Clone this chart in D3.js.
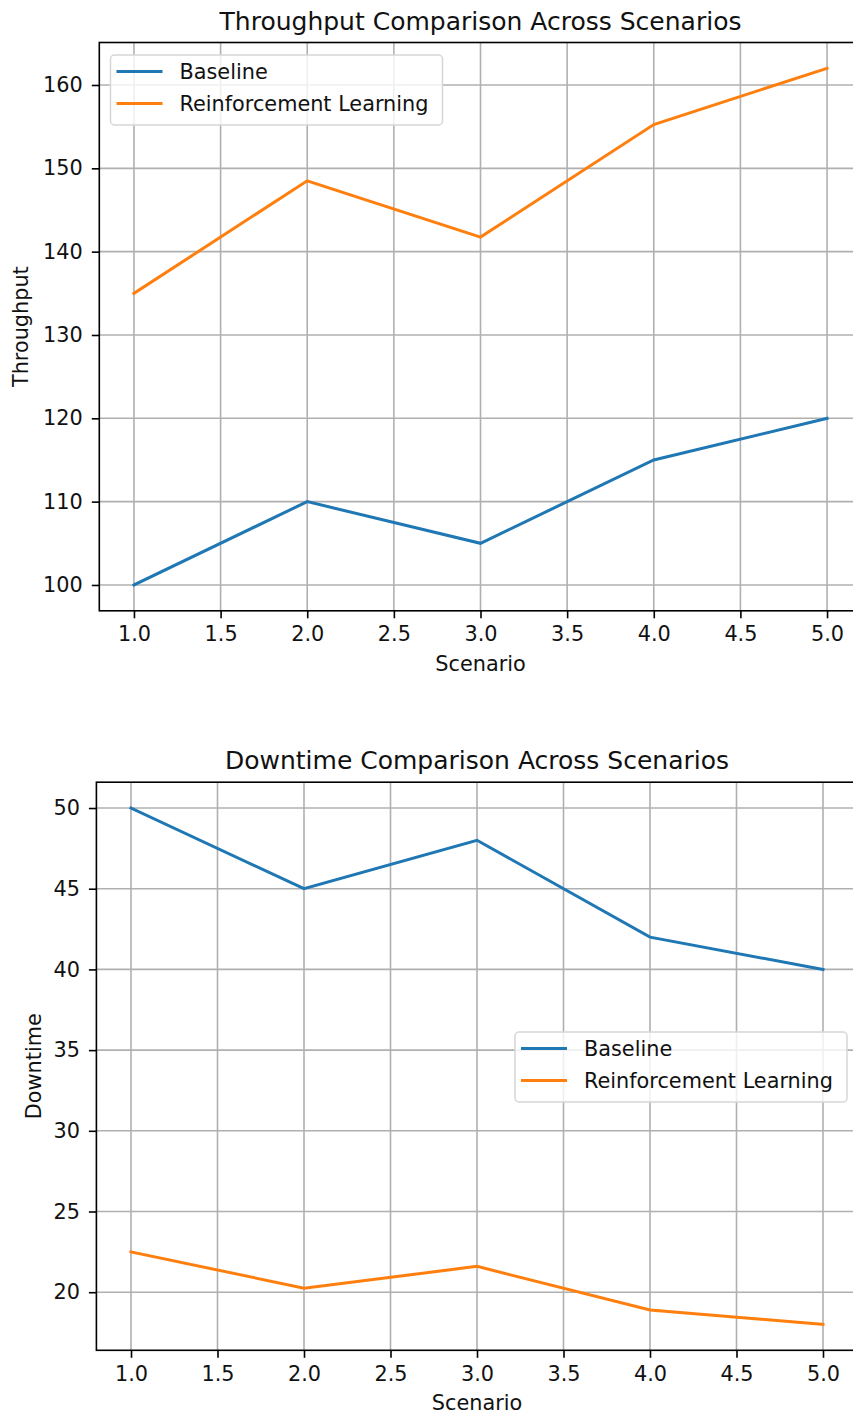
<!DOCTYPE html>
<html>
<head>
<meta charset="utf-8">
<script src="https://cdn.jsdelivr.net/npm/d3@7"></script>
<style>
  body { margin: 0; background: #fff; overflow: hidden; }
  svg text { font-family: "DejaVu Sans", sans-serif; fill: #111; }
</style>
</head>
<body>
<div id="chart"></div>
<script>
const width = 853;
const height = 1416;

// data
const scenarios = [1, 2, 3, 4, 5];
const throughputBaseline = [100, 110, 105, 115, 120];
const throughputRL = [135, 148.5, 141.75, 155.25, 162];
const downtimeBaseline = [50, 45, 48, 42, 40];
const downtimeRL = [22.5, 20.25, 21.6, 18.9, 18];
const xTicks = [1.0, 1.5, 2.0, 2.5, 3.0, 3.5, 4.0, 4.5, 5.0];
const throughputTicks = [100, 110, 120, 130, 140, 150, 160];
const downtimeTicks = [20, 25, 30, 35, 40, 45, 50];
const seriesNames = ["Baseline", "Reinforcement Learning"];
const colors = ["#1f77b4", "#ff7f0e"];

const fontSmall = 20.8;
const fontTitle = 25;

const svg = d3.select("#chart").append("svg")
    .attr("width", width)
    .attr("height", height);

function drawPanel(cfg) {
    const x = d3.scaleLinear().domain([0.8, 5.2]).range([cfg.left, cfg.right]);
    const allVals = cfg.series.flat();
    const lo = d3.min(allVals), hi = d3.max(allVals);
    const pad = (hi - lo) * 0.05;
    const y = d3.scaleLinear().domain([lo - pad, hi + pad]).range([cfg.bottom, cfg.top]);

    const g = svg.append("g");

    // grid
    g.append("g").selectAll("line").data(xTicks).enter().append("line")
        .attr("x1", d => x(d)).attr("x2", d => x(d))
        .attr("y1", cfg.top).attr("y2", cfg.bottom)
        .attr("stroke", "#b0b0b0").attr("stroke-width", 1.6);
    g.append("g").selectAll("line").data(cfg.yTicks).enter().append("line")
        .attr("x1", cfg.left).attr("x2", cfg.right)
        .attr("y1", d => y(d)).attr("y2", d => y(d))
        .attr("stroke", "#b0b0b0").attr("stroke-width", 1.6);

    // axes
    const xAxis = g.append("g")
        .attr("transform", `translate(0,${cfg.bottom})`)
        .call(d3.axisBottom(x).tickValues(xTicks).tickFormat(d3.format(".1f")).tickSizeOuter(0).tickSize(7.5).tickPadding(8));
    const yAxis = g.append("g")
        .attr("transform", `translate(${cfg.left},0)`)
        .call(d3.axisLeft(y).tickValues(cfg.yTicks).tickFormat(d3.format("d")).tickSizeOuter(0).tickSize(7.5).tickPadding(9));
    [xAxis, yAxis].forEach(a => {
        a.select(".domain").remove();
        a.selectAll(".tick line").attr("stroke", "#000").attr("stroke-width", 1.6);
        a.selectAll(".tick text").attr("font-size", fontSmall).attr("fill", "#111")
            .attr("font-family", "DejaVu Sans, sans-serif");
    });

    // spines
    g.append("rect")
        .attr("x", cfg.left).attr("y", cfg.top)
        .attr("width", cfg.right - cfg.left).attr("height", cfg.bottom - cfg.top)
        .attr("fill", "none").attr("stroke", "#000").attr("stroke-width", 1.6);

    // lines
    const line = d3.line().x((d, i) => x(scenarios[i])).y(d => y(d));
    cfg.series.forEach((s, i) => {
        g.append("path").datum(s)
            .attr("d", line)
            .attr("fill", "none")
            .attr("stroke", colors[i])
            .attr("stroke-width", 3)
            .attr("stroke-linecap", "square");
    });

    // titles
    g.append("text")
        .attr("x", (cfg.left + cfg.right) / 2).attr("y", cfg.top - 13)
        .attr("text-anchor", "middle").attr("font-size", fontTitle)
        .text(cfg.title);
    g.append("text")
        .attr("x", (cfg.left + cfg.right) / 2).attr("y", cfg.bottom + 60)
        .attr("text-anchor", "middle").attr("font-size", fontSmall)
        .text("Scenario");
    g.append("text")
        .attr("transform", `translate(${cfg.yLabelX},${(cfg.top + cfg.bottom) / 2}) rotate(-90)`)
        .attr("text-anchor", "middle").attr("font-size", fontSmall)
        .text(cfg.yLabel);

    // legend
    const lg = g.append("g").attr("transform", `translate(${cfg.legend[0]},${cfg.legend[1]})`);
    lg.append("rect")
        .attr("width", 332).attr("height", 70).attr("rx", 4)
        .attr("fill", "#fff").attr("fill-opacity", 0.8)
        .attr("stroke", "#d6d6d6").attr("stroke-width", 1.5);
    seriesNames.forEach((n, i) => {
        const yy = 16.5 + i * 32;
        lg.append("line")
            .attr("x1", 6).attr("x2", 52).attr("y1", yy).attr("y2", yy)
            .attr("stroke", colors[i]).attr("stroke-width", 3);
        lg.append("text")
            .attr("x", 69).attr("y", yy + 7.5).attr("font-size", fontSmall)
            .text(n);
    });
}

drawPanel({
    left: 99.3, right: 861.7, top: 42.5, bottom: 610.8,
    series: [throughputBaseline, throughputRL],
    yTicks: throughputTicks,
    title: "Throughput Comparison Across Scenarios",
    yLabel: "Throughput", yLabelX: 28,
    legend: [110.5, 55]
});

drawPanel({
    left: 96.4, right: 857.6, top: 782.2, bottom: 1350.3,
    series: [downtimeBaseline, downtimeRL],
    yTicks: downtimeTicks,
    title: "Downtime Comparison Across Scenarios",
    yLabel: "Downtime", yLabelX: 41,
    legend: [515, 1032]
});
</script>
</body>
</html>
